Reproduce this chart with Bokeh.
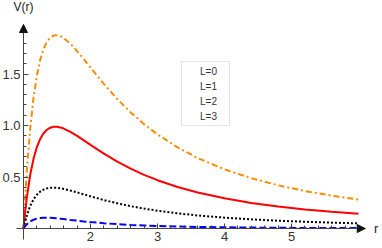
from bokeh.plotting import figure
from bokeh.models import (ColumnDataSource, FixedTicker, Legend, LegendItem, Label,
                          Arrow, NormalHead, Range1d, PrintfTickFormatter)
from bokeh.embed import file_html
from bokeh.resources import INLINE

r = [1.0, 1.02, 1.05, 1.1, 1.15, 1.2, 1.25, 1.3, 1.35, 1.4, 1.45, 1.5, 1.55, 1.6, 1.7, 1.8,
     1.9, 2.0, 2.2, 2.4, 2.6, 2.8, 3.0, 3.3, 3.6, 4.0, 4.4, 4.8, 5.2, 5.6, 6.0]
V_L0 = [0, .0185, .0411, .0683, .0858, .0965, .1024, .1050, .1054, .1041, .1018, .0988, .0953,
        .0916, .0838, .0762, .0691, .0625, .0512, .0422, .0350, .0293, .0247, .0194, .0155,
        .0117, .0091, .0072, .0057, .0047, .0039]
V_L1 = [0, .0562, .1275, .2186, .2830, .3279, .3584, .3781, .3899, .3957, .3970, .3951, .3907,
        .3845, .3688, .3506, .3315, .3125, .2766, .2447, .2171, .1933, .1728, .1474, .1269,
        .1055, .0889, .0759, .0655, .0571, .0502]
V_L2 = [0, .1316, .3003, .5191, .6775, .7909, .8704, .9243, .9589, .9788, .9874, .9877, .9815,
        .9705, .9387, .8993, .8563, .8125, .7274, .6498, .5812, .5213, .4691, .4034, .3498,
        .2930, .2486, .2133, .1850, .1618, .1427]
V_L3 = [0, .2446, .5594, .9699, 1.2693, 1.4853, 1.6384, 1.7436, 1.8124, 1.8534, 1.8731, 1.8765,
        1.8676, 1.8494, 1.7936, 1.7223, 1.6436, 1.5625, 1.4036, 1.2575, 1.1274, 1.0133, .9136,
        .7874, .6842, .5742, .4880, .4195, .3642, .3190, .2816]
labels = ["L=0", "L=1", "L=2", "L=3"]
x_ticks = [2, 3, 4, 5]
y_ticks = [0.5, 1.0, 1.5]
x_origin, y_origin = 1.0, 0.0
x_axis_bounds = (0.9, 6.1)      # r axis runs to its arrow tip
y_axis_bounds = (-0.107, 1.98)  # V axis runs to its arrow tip
x_view = (0.657, 6.358)
y_view = (-0.194, 2.2136)

FONT = "Liberation Sans"
AX = "#444444"

p = figure(width=382, height=248, output_backend="svg", toolbar_location=None,
           x_range=Range1d(*x_view), y_range=Range1d(*y_view),
           min_border_left=0, min_border_right=0, min_border_top=0, min_border_bottom=0)
p.outline_line_color = None
p.grid.visible = False
p.background_fill_color = "white"
p.border_fill_color = "white"

for ax in (p.xaxis[0], p.yaxis[0]):
    ax.axis_line_color = AX
    ax.major_tick_line_color = AX
    ax.minor_tick_line_color = AX
    ax.major_tick_in = 5
    ax.major_tick_out = 0
    ax.minor_tick_in = 3
    ax.minor_tick_out = 0
    ax.major_label_text_font = FONT
    ax.major_label_text_font_size = "13px"
    ax.major_label_text_color = "#333333"
    ax.major_label_standoff = 3

p.xaxis.fixed_location = y_origin
p.yaxis.fixed_location = x_origin
p.xaxis.bounds = x_axis_bounds
p.yaxis.bounds = y_axis_bounds
p.xaxis.ticker = FixedTicker(ticks=x_ticks,
                             minor_ticks=[1 + 0.2 * i for i in range(1, 26)])
p.yaxis.ticker = FixedTicker(ticks=y_ticks,
                             minor_ticks=[0.1 * i for i in range(1, 20)])
p.yaxis.formatter = PrintfTickFormatter(format="%.1f")

styles = [
    (V_L3, "#ff8a00", "6 3 2 3"),
    (V_L2, "#ff0000", "solid"),
    (V_L1, "#000000", "2 2"),
    (V_L0, "#0000ff", "7 3"),
]
for ys, col, dash in styles:
    src = ColumnDataSource(dict(x=r, y=ys))
    p.line("x", "y", source=src, line_color=col, line_width=2, line_dash=dash)

# legend-only renderers (pale, small)
items = []
leg_styles = [("#0000ff", "solid"), ("#000000", "1 2"), ("#ff0000", "solid"), ("#ff8a00", "3 2")]
for lab, (col, dash) in zip(labels, leg_styles):
    rr = p.line(x=[], y=[], line_color=col, line_width=1, line_alpha=0.5, line_dash=dash)
    items.append(LegendItem(label=lab, renderers=[rr]))
leg = Legend(items=items, location=(181, 122), label_text_font=FONT,
             label_text_font_size="10px", label_text_color="#333333",
             label_height=12, glyph_height=12, glyph_width=7, spacing=3, padding=3,
             label_standoff=8, label_width=26, border_line_color="#cccccc",
             background_fill_color="white", background_fill_alpha=1)
p.add_layout(leg, "center")

# axis arrowheads
p.add_layout(Arrow(end=NormalHead(size=8, fill_color="#111111", line_color="#111111", line_width=1),
                   x_start=x_origin, y_start=y_axis_bounds[1] - 0.05,
                   x_end=x_origin, y_end=y_axis_bounds[1], line_alpha=0))
p.add_layout(Arrow(end=NormalHead(size=8, fill_color="#111111", line_color="#111111", line_width=1),
                   x_start=x_axis_bounds[1] - 0.1, y_start=y_origin,
                   x_end=x_axis_bounds[1], y_end=y_origin, line_alpha=0))

p.add_layout(Label(x=x_origin, y=2.15, text="V(r)", text_align="center",
                   text_baseline="middle", text_font=FONT, text_font_size="12px",
                   text_color="#222222"))
p.add_layout(Label(x=6.265, y=y_origin, text="r", text_align="center",
                   text_baseline="middle", text_font=FONT, text_font_size="13px",
                   text_color="#222222"))

open("out.html", "w").write(file_html(p, INLINE))
